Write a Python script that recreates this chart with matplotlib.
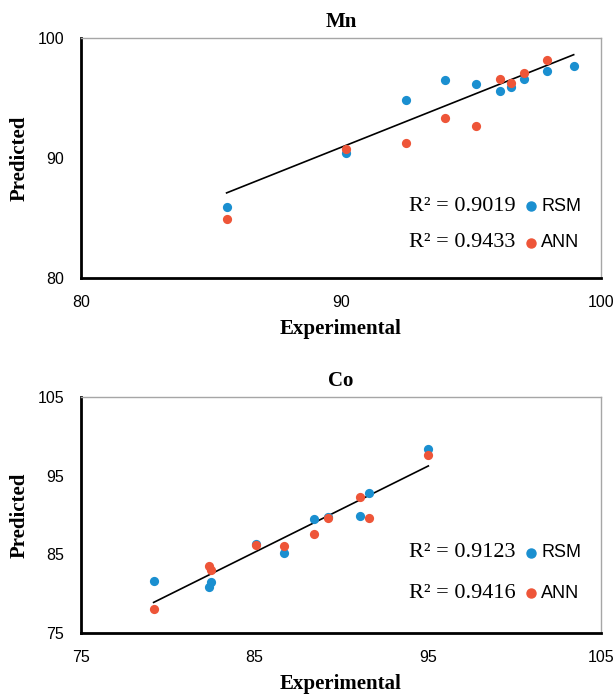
import numpy as np
import matplotlib
matplotlib.use("Agg")
import matplotlib.pyplot as plt
from matplotlib.lines import Line2D

# Datos
mn_rsm_x = [85.6, 90.2, 92.5, 94.0, 95.2, 96.13, 96.54, 97.03, 97.93, 98.95]
mn_rsm_y = [85.94, 90.44, 94.86, 96.47, 96.17, 95.56, 95.94, 96.56, 97.28, 97.7]
mn_ann_x = [85.6, 90.2, 92.5, 94.0, 95.2, 96.13, 96.54, 97.03, 97.93]
mn_ann_y = [84.94, 90.75, 91.25, 93.36, 92.67, 96.58, 96.25, 97.06, 98.19]

co_rsm_x = [79.19, 82.4, 82.52, 85.12, 86.71, 88.43, 89.23, 91.12, 91.64, 95.04]
co_rsm_y = [81.62, 80.82, 81.53, 86.32, 85.14, 89.54, 89.79, 89.92, 92.84, 98.35]
co_ann_x = [79.19, 82.4, 82.52, 85.12, 86.71, 88.43, 89.23, 91.12, 91.64, 95.04]
co_ann_y = [78.1, 83.49, 83.02, 86.23, 86.1, 87.63, 89.59, 92.33, 89.62, 97.67]

mn_r2 = ["R² = 0.9019", "R² = 0.9433"]
co_r2 = ["R² = 0.9123", "R² = 0.9416"]
series = ["RSM", "ANN"]

mn_ticks = [80, 90, 100]
co_ticks = [75, 85, 95, 105]

AZUL = "#1A8FD0"
ROJO = "#EE5538"

fig = plt.figure(figsize=(6.16, 6.94), dpi=100)


def panel(ax, titulo, rx, ry, ax_, ay, ticks, r2, ypos):
    ax.scatter(rx, ry, s=44, color=AZUL, zorder=3, linewidths=0)
    ax.scatter(ax_, ay, s=44, color=ROJO, zorder=3, linewidths=0)

    # Linea de tendencia (ajuste lineal RSM)
    m, b = np.polyfit(rx, ry, 1)
    xs = np.array([min(rx), max(rx)])
    ax.plot(xs, m * xs + b, color="black", linewidth=1.2, zorder=2)

    ax.set_xlim(ticks[0], ticks[-1])
    ax.set_ylim(ticks[0], ticks[-1])
    ax.set_xticks(ticks)
    ax.set_yticks(ticks)
    ax.tick_params(length=0, pad=12, labelsize=11.5)
    for lab in ax.get_xticklabels() + ax.get_yticklabels():
        lab.set_fontfamily("Liberation Sans")

    ax.spines["left"].set_linewidth(2)
    ax.spines["bottom"].set_linewidth(2)
    ax.spines["top"].set_color("#A6A6A6")
    ax.spines["right"].set_color("#A6A6A6")
    ax.spines["top"].set_linewidth(1)
    ax.spines["right"].set_linewidth(1)

    ax.set_title(titulo, fontsize=15, fontweight="bold", family="Liberation Serif", pad=8)
    ax.set_xlabel("Experimental", fontsize=15, fontweight="bold", family="Liberation Serif", labelpad=7)
    ax.set_ylabel("Predicted", fontsize=15, fontweight="bold", family="Liberation Serif", labelpad=6)

    for txt, yp in zip(r2, ypos):
        ax.text(0.835, yp, txt, transform=ax.transAxes, ha="right", va="center",
                fontsize=16, family="Liberation Serif")

    handles = [Line2D([], [], marker="o", linestyle="", color=c, markersize=7)
               for c in (AZUL, ROJO)]
    for h, lab, yp in zip(handles, series, ypos):
        ax.plot([0.866], [yp], marker="o", color=h.get_color(), markersize=6.5,
                transform=ax.transAxes, clip_on=False, linestyle="")
        ax.text(0.885, yp, lab, transform=ax.transAxes, ha="left", va="center",
                fontsize=13, family="Liberation Sans")


ax1 = fig.add_axes([0.1315, 0.5994, 0.8441, 0.3458])
panel(ax1, "Mn", mn_rsm_x, mn_rsm_y, mn_ann_x, mn_ann_y, mn_ticks, mn_r2, [0.30, 0.146])

ax2 = fig.add_axes([0.1315, 0.0879, 0.8441, 0.3401])
panel(ax2, "Co", co_rsm_x, co_rsm_y, co_ann_x, co_ann_y, co_ticks, co_r2, [0.339, 0.169])

plt.savefig("out.png", dpi=100)
